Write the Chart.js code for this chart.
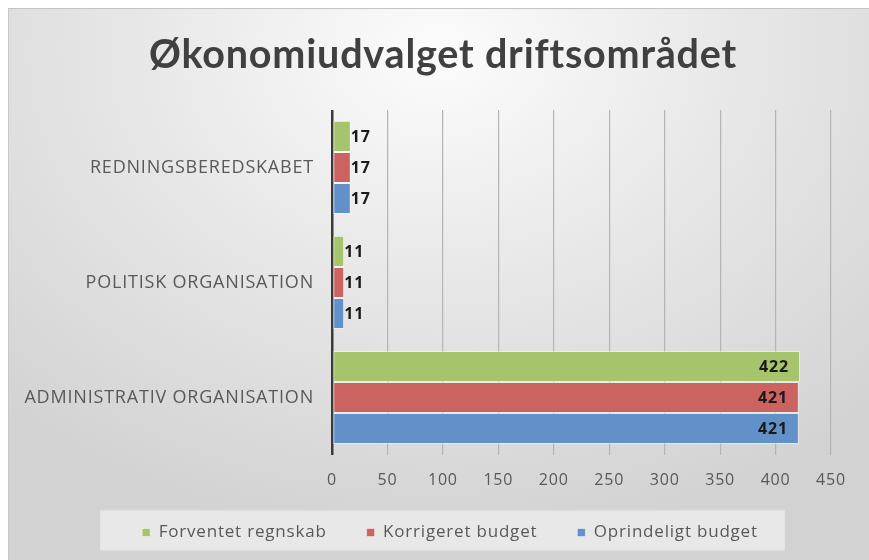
<!DOCTYPE html>
<html>
<head>
<meta charset="utf-8">
<script src="https://cdn.jsdelivr.net/npm/chart.js@4.4.0/dist/chart.umd.min.js"></script>
<style>
  html, body { margin: 0; padding: 0; background: #ffffff; }
  #wrap {
    position: absolute; left: 8px; top: 8px; width: 861px; height: 552px;
    background: radial-gradient(ellipse 75% 90% at 50% 8%, #fcfcfc 0%, #e8e8e8 45%, #d2d2d2 100%);
    border-top: 1px solid #c4c4c4; border-left: 1px solid #c8c8c8;
    box-sizing: border-box;
  }
  canvas { position: absolute; left: 0; top: 0; }
</style>
</head>
<body>
<div id="wrap"><canvas id="chart" width="860" height="551"></canvas></div>
<script>
const categories = ["REDNINGSBEREDSKABET", "POLITISK ORGANISATION", "ADMINISTRATIV ORGANISATION"];
const forventetRegnskab = [17, 11, 422];
const korrigeretBudget = [17, 11, 421];
const oprindeligtBudget = [17, 11, 421];
const xMin = 0, xMax = 450, xStep = 50;

const FONT = "'Open Sans'";
const GREEN = "#a5c46b", RED = "#cb6361", BLUE = "#6290c8";

// the source font runs wide, so space the letters a little
const spacing = {
  id: "spacing",
  beforeUpdate(chart) { chart.ctx.letterSpacing = "0.8px"; },
  beforeDraw(chart) { chart.ctx.letterSpacing = "0.8px"; }
};

// nudge the legend up and right, like the original
const legendShift = {
  id: "legendShift",
  afterLayout(chart) {
    const lg = chart.legend;
    lg.top -= 7; lg.bottom -= 7;
    lg.left += 7; lg.right += 7;
    lg.legendHitBoxes.forEach(hb => { hb.top -= 7; hb.left += 7; });
  }
};

// labels at bar end, pushed outside when the bar is too short
const barLabels = {
  id: "barLabels",
  afterDatasetsDraw(chart) {
    const ctx = chart.ctx;
    ctx.save();
    ctx.font = "bold 16px " + FONT;
    ctx.fillStyle = "#1a1a1a";
    ctx.textBaseline = "middle";
    chart.data.datasets.forEach((ds, i) => {
      chart.getDatasetMeta(i).data.forEach((bar, j) => {
        const txt = String(ds.data[j]);
        const w = ctx.measureText(txt).width;
        if (bar.x - bar.base > w + 20) {
          ctx.textAlign = "right";
          ctx.fillText(txt, bar.x - 11, bar.y + 1);
        } else {
          ctx.textAlign = "left";
          ctx.fillText(txt, bar.x, bar.y + 1);
        }
      });
    });
    ctx.restore();
  }
};

// light box behind the legend
const legendBox = {
  id: "legendBox",
  beforeDraw(chart) {
    const lg = chart.legend;
    if (!lg || !lg.legendHitBoxes.length) return;
    const hb = lg.legendHitBoxes;
    const left = hb[0].left - 43;
    const right = hb[hb.length - 1].left + hb[hb.length - 1].width + 28;
    const cy = hb[0].top + hb[0].height / 2 + 5;
    const ctx = chart.ctx;
    ctx.save();
    ctx.fillStyle = "rgba(234,234,234,0.9)";
    ctx.fillRect(left, cy - 21, right - left, 42);
    ctx.strokeStyle = "rgba(205,205,205,0.9)";
    ctx.lineWidth = 1;
    ctx.strokeRect(left + 0.5, cy - 20.5, right - left - 1, 41);
    ctx.restore();
  }
};

const mk = (label, data, color) => ({
  label, data,
  backgroundColor: color,
  borderColor: "rgba(255,255,255,0.45)",
  borderWidth: 1,
  borderSkipped: false,
  categoryPercentage: 0.81,
  barPercentage: 1.0
});

new Chart(document.getElementById("chart"), {
  type: "bar",
  data: {
    labels: categories,
    datasets: [
      mk("Forventet regnskab", forventetRegnskab, GREEN),
      mk("Korrigeret budget", korrigeretBudget, RED),
      mk("Oprindeligt budget", oprindeligtBudget, BLUE)
    ]
  },
  options: {
    indexAxis: "y",
    responsive: false,
    animation: false,
    layout: { padding: { left: 8, right: 0, top: 0, bottom: 2 } },
    plugins: {
      title: {
        display: true,
        text: "Økonomiudvalget driftsområdet",
        color: "#404040",
        font: { family: "Lato", size: 39.5, weight: "bold" },
        padding: { top: 23, bottom: 30.5 }
      },
      legend: {
        position: "bottom",
        labels: {
          boxWidth: 8, boxHeight: 8, padding: 40,
          color: "#595959",
          font: { family: FONT, size: 17 }
        }
      },
      tooltip: { enabled: false }
    },
    scales: {
      x: {
        min: xMin, max: xMax,
        ticks: { stepSize: xStep, color: "#595959", font: { family: FONT, size: 16 }, padding: 16 },
        grid: {
          color: c => c.tick && c.tick.value === 0 ? "#3a3a3a" : "#b4b4b4",
          lineWidth: c => c.tick && c.tick.value === 0 ? 2.5 : 1.2,
          drawTicks: false
        },
        border: { display: false },
        afterFit(s) { s.height = 36; s.paddingRight = 38; }
      },
      y: {
        ticks: { color: "#595959", font: { family: FONT, size: 18 }, padding: 18 },
        grid: { display: false, drawTicks: false },
        border: { display: false },
        afterFit(s) { s.width = 315; }
      }
    }
  },
  plugins: [spacing, legendShift, barLabels, legendBox]
});
</script>
</body>
</html>
